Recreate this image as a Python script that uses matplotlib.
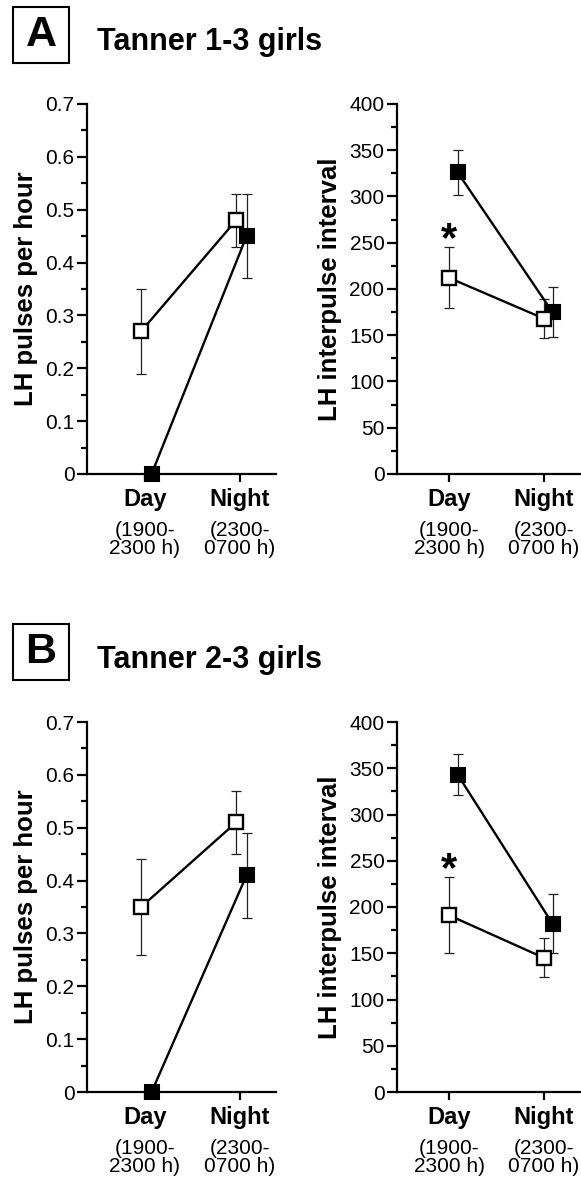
import numpy as np
import matplotlib.pyplot as plt
from matplotlib.patches import Rectangle
from matplotlib.ticker import MultipleLocator, FuncFormatter

plt.rcParams['font.family'] = ['Liberation Sans', 'DejaVu Sans']

# x categories
periods = ['Day', 'Night']
period_hours = ['(1900-\n2300 h)', '(2300-\n0700 h)']

# Panel A: Tanner 1-3 girls
a_pulse_open = [0.27, 0.48]
a_pulse_open_err = [0.08, 0.05]
a_pulse_fill = [0.0, 0.45]
a_pulse_fill_err = [0.0, 0.08]
a_ipi_open = [212, 168]
a_ipi_open_err = [33, 21]
a_ipi_fill = [326, 175]
a_ipi_fill_err = [24, 27]

# Panel B: Tanner 2-3 girls
b_pulse_open = [0.35, 0.51]
b_pulse_open_err = [0.09, 0.06]
b_pulse_fill = [0.0, 0.41]
b_pulse_fill_err = [0.0, 0.08]
b_ipi_open = [191, 145]
b_ipi_open_err = [41, 21]
b_ipi_fill = [343, 182]
b_ipi_fill_err = [22, 32]

# star marks (Day, interpulse interval)
a_star = 262
b_star = 249

W, H = 581, 1179
fig = plt.figure(figsize=(W / 100, H / 100), dpi=100)


def fx(px):
    return px / W


def fy(py):
    return 1 - py / H


def panel(ax, xlim, opn, opn_err, fil, fil_err, ymax, major, minor, ylabel,
          fmt, dx_open, dx_fill, star=None):
    x = np.arange(1, 3)
    ax.errorbar(x + dx_open, opn, yerr=opn_err, fmt='none', ecolor='#222222',
                elinewidth=0.9, capsize=3.5, capthick=0.9, zorder=2)
    ax.errorbar(x + dx_fill, fil, yerr=fil_err, fmt='none', ecolor='#222222',
                elinewidth=0.9, capsize=3.5, capthick=0.9, zorder=2)
    ax.plot(x + dx_fill, fil, color='black', lw=1.7, marker='s', ms=10,
            mfc='black', mec='black', mew=1.5, clip_on=False, zorder=4)
    ax.plot(x + dx_open, opn, color='black', lw=1.7, marker='s', ms=10,
            mfc='white', mec='black', mew=1.7, clip_on=False, zorder=5)
    if star is not None:
        # asterisk glyph sits high in its box, so nudge it down
        ax.annotate('*', xy=(1 + dx_open, star), xytext=(0, -6),
                    textcoords='offset points', ha='center', va='center',
                    fontsize=30, fontweight='bold')
    ax.set_xlim(*xlim)
    ax.set_ylim(0, ymax)
    for s in ['top', 'right']:
        ax.spines[s].set_visible(False)
    for s in ['left', 'bottom']:
        ax.spines[s].set_linewidth(1.6)
    ax.yaxis.set_major_locator(MultipleLocator(major))
    ax.yaxis.set_minor_locator(MultipleLocator(minor))
    ax.yaxis.set_major_formatter(FuncFormatter(fmt))
    ax.tick_params(axis='y', which='major', length=7, width=1.6,
                   labelsize=15, pad=2)
    ax.tick_params(axis='y', which='minor', length=4, width=1.6)
    ax.set_xticks(x)
    ax.set_xticklabels(periods, fontsize=17, fontweight='bold')
    ax.tick_params(axis='x', length=6, width=1.6, pad=4)
    for xi, lab in zip(x, period_hours):
        ax.annotate(lab, xy=(xi, 0), xycoords=('data', 'axes fraction'),
                    xytext=(0, -34), textcoords='offset points',
                    ha='center', va='top', fontsize=15, linespacing=0.95,
                    annotation_clip=False)
    ax.set_ylabel(ylabel, fontsize=18.5, fontweight='bold', labelpad=5)


def pulse_fmt(v, pos):
    return '0' if abs(v) < 1e-9 else f'{v:.1f}'


def ipi_fmt(v, pos):
    return f'{v:.0f}'


rows = [
    (104, 474, 'A', 'Tanner 1-3 girls', 7, 50,
     a_pulse_open, a_pulse_open_err, a_pulse_fill, a_pulse_fill_err,
     a_ipi_open, a_ipi_open_err, a_ipi_fill, a_ipi_fill_err, a_star),
    (722, 1092, 'B', 'Tanner 2-3 girls', 624, 668,
     b_pulse_open, b_pulse_open_err, b_pulse_fill, b_pulse_fill_err,
     b_ipi_open, b_ipi_open_err, b_ipi_fill, b_ipi_fill_err, b_star),
]

for (top, bot, letter, title, box_top, base,
     po, poe, pf, pfe, io, ioe, iff, ife, star) in rows:
    h = (bot - top) / H
    ax1 = fig.add_axes([fx(87), fy(bot), fx(276 - 87), h])
    panel(ax1, (0.39, 2.38), po, poe, pf, pfe, 0.7, 0.1, 0.05,
          'LH pulses per hour', pulse_fmt, -0.04, 0.07)
    ax2 = fig.add_axes([fx(397), fy(bot), fx(580 - 397), h])
    panel(ax2, (0.45, 2.38), io, ioe, iff, ife, 400, 50, 25,
          'LH interpulse interval', ipi_fmt, 0.0, 0.09, star)

    fig.patches.append(Rectangle((fx(13), fy(box_top + 56)), fx(56), 56 / H,
                                 transform=fig.transFigure, fill=False,
                                 edgecolor='black', lw=1.5))
    fig.text(fx(41), fy(box_top + 28), letter, ha='center', va='center',
             fontsize=31, fontweight='bold')
    fig.text(fx(97), fy(base), title, ha='left', va='baseline',
             fontsize=22, fontweight='bold')

fig.savefig('out.png', dpi=100)
